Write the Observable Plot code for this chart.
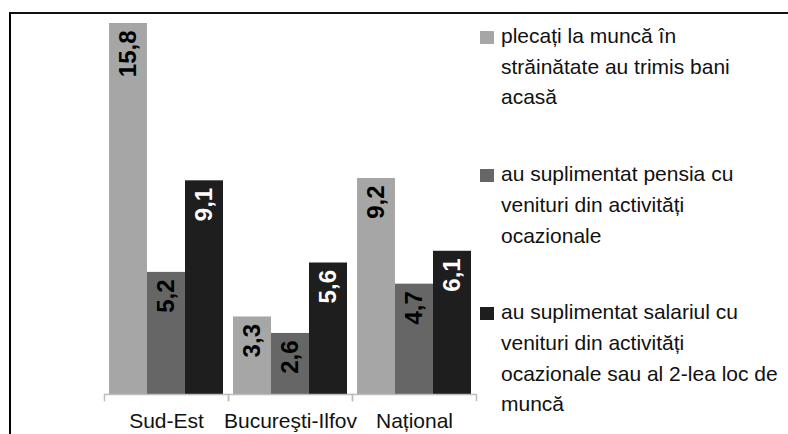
<!DOCTYPE html>
<html><head><meta charset="utf-8">
<script src="https://cdn.jsdelivr.net/npm/d3@7"></script>
<script src="https://cdn.jsdelivr.net/npm/@observablehq/plot@0.6"></script>
<style>
html,body{margin:0;padding:0;background:#fff;}
#wrap{position:relative;width:788px;height:434px;overflow:hidden;font-family:"Liberation Sans",Arial,sans-serif;}
#frame{position:absolute;left:9px;top:12px;width:800px;height:440px;border-left:2px solid #000;border-top:2px solid #111;box-sizing:border-box;}
#chart{position:absolute;left:0;top:0;}
#legend{position:absolute;left:480px;top:21px;width:308px;font-size:21px;line-height:30.7px;color:#111;}
.item{position:relative;padding-left:21px;white-space:pre-line;margin-bottom:46px;}
.sw{position:absolute;left:0;top:10px;width:14px;height:13px;}
</style></head><body>
<div id="wrap"><div id="frame"></div><div id="chart"></div><div id="legend"></div></div>
<script>
const categories = ["Sud-Est", "Bucureşti-Ilfov", "Național"];
const seriesKeys = ["plecati", "pensia", "salariul"];
const seriesLegend = [
  "plecați la muncă în\nstrăinătate au trimis bani\nacasă",
  "au suplimentat pensia cu\nvenituri din activități\nocazionale",
  "au suplimentat salariul cu\nvenituri din activități\nocazionale sau al 2-lea loc de\nmuncă"
];
const valuesPlecati = [15.8, 3.3, 9.2];
const valuesPensia = [5.2, 2.6, 4.7];
const valuesSalariul = [9.1, 5.6, 6.1];
const seriesColors = ["#a6a6a6", "#666666", "#1e1e1e"];

const seriesValues = [valuesPlecati, valuesPensia, valuesSalariul];
const table = [];
categories.forEach((c, i) => seriesKeys.forEach((s, j) => table.push({cat: c, series: s, value: seriesValues[j][i]})));
const fmt = v => v.toFixed(1).replace(".", ",");

const W = 788, H = 434, mL = 104, mR = 312, mT = 23, mB = 40;
const plot = Plot.plot({
  width: W, height: H, marginLeft: mL, marginRight: mR, marginTop: mT, marginBottom: mB,
  style: {fontFamily: "'Liberation Sans', Arial, sans-serif", fontSize: "21px", color: "#111", background: "transparent", overflow: "visible"},
  fx: {domain: categories, padding: 0, label: null, axis: "bottom", tickSize: 0, tickPadding: 19},
  x: {domain: seriesKeys, paddingInner: 0, paddingOuter: 0.1, axis: null},
  y: {domain: [0, 15.8], axis: null},
  color: {domain: seriesKeys, range: seriesColors},
  marks: [
    Plot.barY(table, {fx: "cat", x: "series", y: "value", fill: "series"}),
    Plot.ruleY([0], {stroke: "#bdbdbd", strokeWidth: 1.5}),
    Plot.frame({anchor: "left", stroke: "#bdbdbd", strokeWidth: 1.5, insetTop: H - mT - mB, insetBottom: -6}),
    Plot.frame({anchor: "right", stroke: "#bdbdbd", strokeWidth: 1.5, insetTop: H - mT - mB, insetBottom: -6}),
    Plot.text(table.filter(d => d.series !== "salariul"), {fx: "cat", x: "series", y: "value", text: d => fmt(d.value), rotate: -90, textAnchor: "end", dy: 7, fill: "#000", fontWeight: "bold", fontSize: 24}),
    Plot.text(table.filter(d => d.series === "salariul"), {fx: "cat", x: "series", y: "value", text: d => fmt(d.value), rotate: -90, textAnchor: "end", dy: 7, fill: "#fff", fontWeight: "bold", fontSize: 24})
  ]
});
document.getElementById("chart").appendChild(plot);

const legend = d3.select("#legend");
seriesLegend.forEach((t, j) => {
  const it = legend.append("div").attr("class", "item");
  it.append("div").attr("class", "sw").style("background", seriesColors[j]);
  it.append("span").text(t);
});
</script>
</body></html>
